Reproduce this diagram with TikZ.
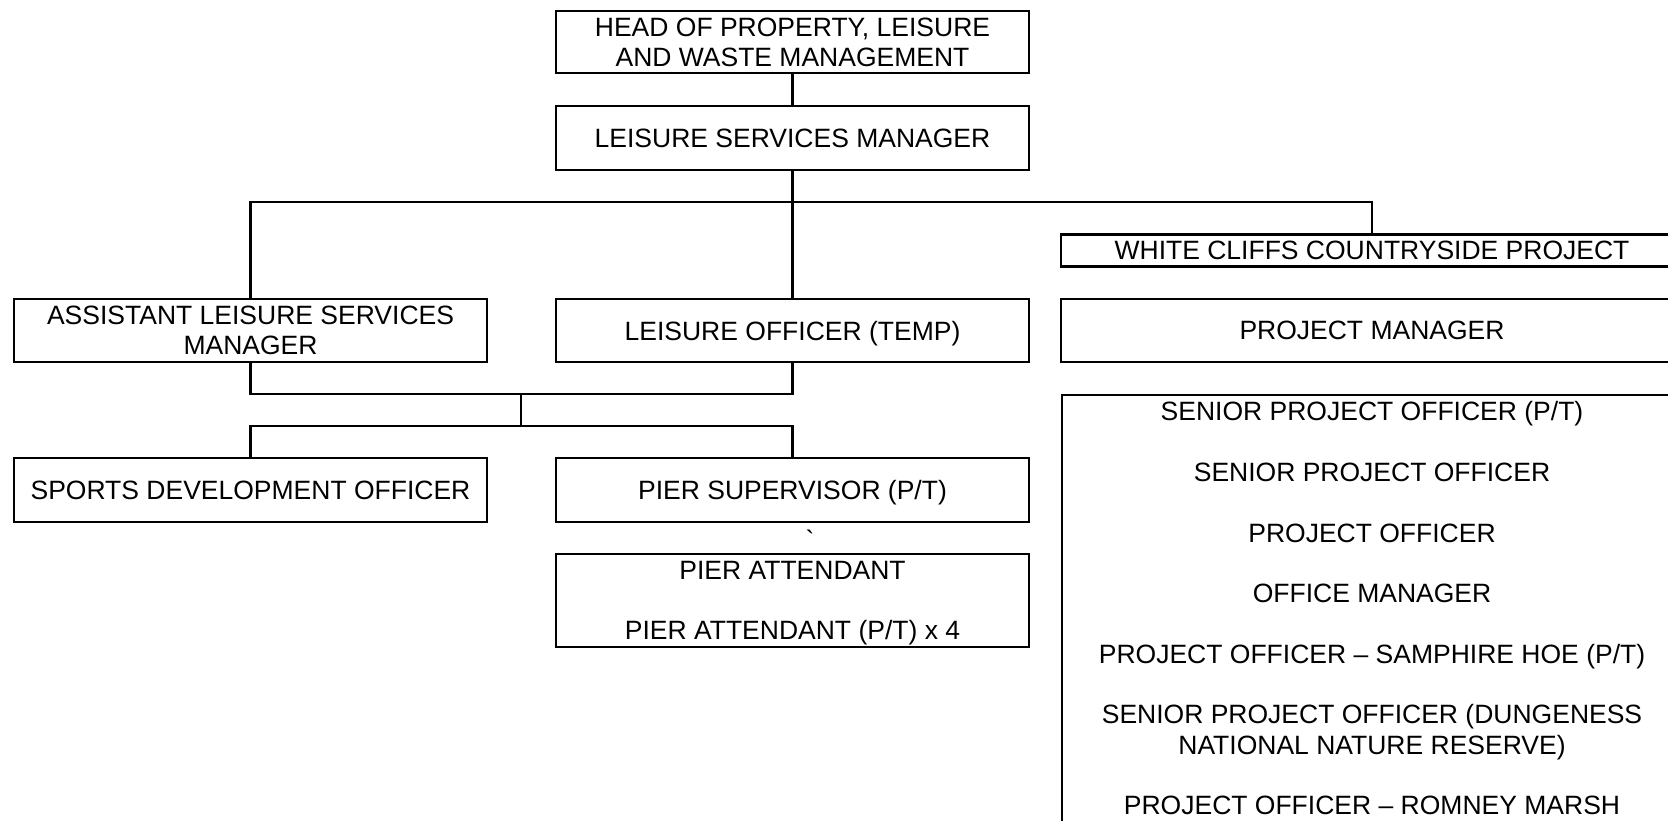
\documentclass[tikz,border=0pt]{standalone}
\usepackage{fontspec}
\setmainfont{Liberation Sans}
\begin{document}
\begin{tikzpicture}[x=1pt,y=-1pt,
  txt/.style={font=\fontsize{26.5}{30.3}\selectfont, align=center, inner sep=0pt},
  box/.style={txt, draw, line width=2.2pt, minimum width=473pt, text depth=0pt},
  wbox/.style={txt, draw, line width=2.2pt, minimum width=622pt, text depth=0pt},
  link/.style={line width=2.2pt}]
\clip (0,0) rectangle (1668,821);
\fill[white] (0,0) rectangle (1668,821);
% boxes
\node[box, minimum height=62pt] (head) at (792.5,42) {HEAD OF PROPERTY, LEISURE\\AND WASTE MANAGEMENT};
\node[box, minimum height=64pt] (lsm) at (792.5,138) {LEISURE SERVICES MANAGER};
\node[wbox, minimum height=32pt] (wccp) at (1372,250.5) {WHITE CLIFFS COUNTRYSIDE PROJECT};
\node[box, minimum height=63pt] (alsm) at (250.5,330.5) {ASSISTANT LEISURE SERVICES\\MANAGER};
\node[box, minimum height=63pt] (lot) at (792.5,330.5) {LEISURE OFFICER (TEMP)};
\node[wbox, minimum height=63pt] (pm) at (1372,330.5) {PROJECT MANAGER};
\node[box, minimum height=64pt] (sdo) at (250.5,490) {SPORTS DEVELOPMENT OFFICER};
\node[box, minimum height=64pt] (ps) at (792.5,490) {PIER SUPERVISOR (P/T)};
\node[box, minimum height=93pt] (pa) at (792.5,600.5) {PIER ATTENDANT\\[30.3pt]PIER ATTENDANT (P/T) x 4};
\node[txt, anchor=base] (tick) at (810,549) {\textasciigrave};
\node[draw, line width=2.2pt, minimum width=622pt, minimum height=520pt, inner sep=0pt, anchor=north west] (staff) at (1061,394) {};
\node[txt, anchor=north] (stafftext) at (1372,401.5) {SENIOR PROJECT OFFICER (P/T)\\[30.3pt]SENIOR PROJECT OFFICER\\[30.3pt]PROJECT OFFICER\\[30.3pt]OFFICE MANAGER\\[30.3pt]PROJECT OFFICER – SAMPHIRE HOE (P/T)\\[30.3pt]SENIOR PROJECT OFFICER (DUNGENESS\\NATIONAL NATURE RESERVE)\\[30.3pt]PROJECT OFFICER – ROMNEY MARSH};
% connectors
\coordinate (bar) at (792.5,202);
\coordinate (j1) at (521,394);
\coordinate (j2) at (521,426);
\draw[link] (head.south) -- (lsm.north);
\draw[link] (lsm.south) -- (lot.north);
\draw[link] (alsm.north) |- (bar) -| (wccp.north);
\draw[link] (alsm.south) |- (j1) -| (lot.south);
\draw[link] (j1) -- (j2);
\draw[link] (sdo.north) |- (j2) -| (ps.north);
\end{tikzpicture}
\end{document}
